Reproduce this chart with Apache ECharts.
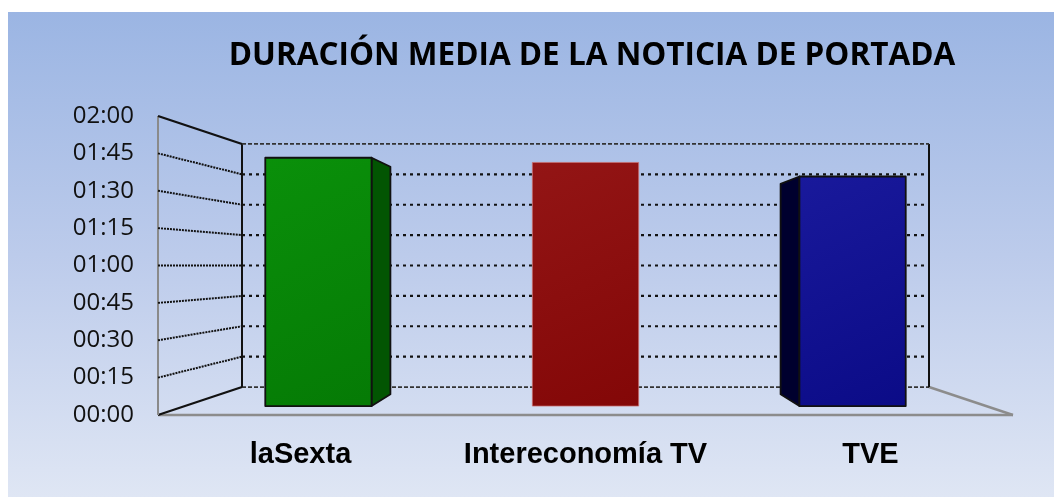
<!DOCTYPE html>
<html>
<head>
<meta charset="utf-8">
<script src="https://cdn.jsdelivr.net/npm/echarts@6/dist/echarts.min.js"></script>
<style>
  html, body { margin: 0; padding: 0; background: #fff; }
  #chart { width: 1054px; height: 497px; }
</style>
</head>
<body>
<div id="chart"></div>
<script>
// data, durations in seconds
const categories = ['laSexta', 'Intereconomía TV', 'TVE']
const durations = [106, 104, 98]
const tickSeconds = [0, 15, 30, 45, 60, 75, 90, 105, 120]
const frontColors = [['#0a900a', '#057a05'], ['#931515', '#830707'], ['#19199b', '#0b0b87']]
const sideColors = ['#025502', '#8c1010', '#00002e']
const edgeColors = ['#111', 'rgba(200,110,110,0.75)', '#111']

// fake perspective: everything is drawn on the front plane (the grid) and pushed back toward a vanishing point
const DEPTH_X = 0.1965
const DEPTH_Y = 0.187
const BAR_FRONT = 0.32
const BAR_BACK = 0.74

function vanish(cs) {
  return [cs.x + cs.width / 2, cs.y + cs.height / 2]
}

function proj(p, t, vp) {
  const sx = 1 - DEPTH_X * t
  const sy = 1 - DEPTH_Y * t
  return [vp[0] + (p[0] - vp[0]) * sx, vp[1] + (p[1] - vp[1]) * sy]
}

function mmss(sec) {
  const m = Math.floor(sec / 60)
  const s = sec % 60
  return String(m).padStart(2, '0') + ':' + String(s).padStart(2, '0')
}

function seg(a, b, style, z2) {
  return {
    type: 'line',
    shape: { x1: a[0], y1: a[1], x2: b[0], y2: b[1] },
    style: Object.assign({ fill: null }, style),
    z2: z2 || 0,
  }
}

function renderFrame(params, api) {
  const cs = params.coordSys
  const vp = vanish(cs)
  const v = api.value(1)
  const y = api.coord([0, v])[1]
  const fl = [cs.x, y]
  const fr = [cs.x + cs.width, y]
  const bl = proj(fl, 1, vp)
  const br = proj(fr, 1, vp)
  const isEdge = v === tickSeconds[0] || v === tickSeconds[tickSeconds.length - 1]
  const children = []

  // left wall
  children.push(seg(fl, bl, isEdge
    ? { stroke: '#111', lineWidth: 2.2 }
    : { stroke: '#111', lineWidth: 2, lineDash: [2, 1] }))
  // back wall
  children.push(seg(bl, br, isEdge
    ? { stroke: '#333', lineWidth: 1.8, lineDash: [4, 2] }
    : { stroke: '#111', lineWidth: 2.2, lineDash: [3, 4] }))

  if (v === tickSeconds[0]) {
    const top = api.coord([0, tickSeconds[tickSeconds.length - 1]])[1]
    const tl = proj([cs.x, top], 1, vp)
    const tr = proj([cs.x + cs.width, top], 1, vp)
    children.push(seg([cs.x, top], [cs.x, y], { stroke: '#8a8a8a', lineWidth: 2 }))
    children.push(seg(tl, bl, { stroke: '#111', lineWidth: 2 }))
    children.push(seg(tr, br, { stroke: '#111', lineWidth: 2 }))
    // floor
    children.push(seg(fl, fr, { stroke: '#8c8c8c', lineWidth: 2.5 }, -1))
    children.push(seg(br, fr, { stroke: '#8c8c8c', lineWidth: 2.5 }, -1))
  }
  return { type: 'group', children: children }
}

function renderBar(params, api) {
  const cs = params.coordSys
  const vp = vanish(cs)
  const i = api.value(0)
  const v = api.value(1)
  const hw = api.size([1, 0])[0] * 0.199
  const cx = api.coord([i, 0])[0]
  const y0 = api.coord([i, 0])[1]
  const y1 = api.coord([i, v])[1]
  const face = [[cx - hw, y1], [cx + hw, y1], [cx + hw, y0], [cx - hw, y0]]
  const front = face.map(p => proj(p, BAR_FRONT, vp))
  const back = face.map(p => proj(p, BAR_BACK, vp))
  const edge = { stroke: edgeColors[i], lineWidth: i === 1 ? 1 : 1.8, lineJoin: 'round' }
  const children = []

  if (front[1][0] < vp[0]) {
    // right side visible
    children.push({
      type: 'polygon',
      shape: { points: [front[1], back[1], back[2], front[2]] },
      style: Object.assign({ fill: sideColors[i] }, edge),
    })
  } else if (front[0][0] > vp[0]) {
    // left side visible
    children.push({
      type: 'polygon',
      shape: { points: [back[0], front[0], front[3], back[3]] },
      style: Object.assign({ fill: sideColors[i] }, edge),
    })
  }
  children.push({
    type: 'polygon',
    shape: { points: front },
    style: Object.assign({
      fill: new echarts.graphic.LinearGradient(0, 0, 1, 1, [
        { offset: 0, color: frontColors[i][0] },
        { offset: 1, color: frontColors[i][1] },
      ]),
    }, edge),
  })
  return { type: 'group', children: children }
}

const chart = echarts.init(document.getElementById('chart'))

chart.setOption({
  animation: false,
  backgroundColor: '#ffffff',
  graphic: [{
    type: 'rect',
    z: -10,
    silent: true,
    shape: { x: 8, y: 12, width: 1046, height: 485 },
    style: {
      fill: new echarts.graphic.LinearGradient(0, 0, 0, 1, [
        { offset: 0, color: '#9bb5e3' },
        { offset: 0.5, color: '#bccbeb' },
        { offset: 1, color: '#dfe6f4' },
      ]),
    },
  }],
  title: {
    text: 'DURACIÓN MEDIA DE LA NOTICIA DE PORTADA',
    left: 587,
    top: 35,
    textAlign: 'center',
    textStyle: { fontFamily: 'Open Sans', fontWeight: 'bold', fontSize: 31.5, color: '#000' },
  },
  grid: { left: 158, right: 41, top: 116, bottom: 82, containLabel: false },
  xAxis: {
    type: 'category',
    data: categories,
    axisLine: { show: false },
    axisTick: { show: false },
    axisLabel: {
      interval: 0,
      margin: 25,
      fontFamily: 'Liberation Sans Narrow, Liberation Sans, Arial',
      fontWeight: 'bold',
      fontSize: 29,
      color: '#000',
    },
  },
  yAxis: {
    type: 'value',
    min: 0,
    max: 120,
    interval: 15,
    axisLine: { show: false },
    axisTick: { show: false },
    splitLine: { show: false },
    axisLabel: {
      margin: 24,
      fontFamily: 'Open Sans',
      fontSize: 24,
      color: '#111',
      formatter: mmss,
    },
  },
  series: [
    {
      type: 'custom',
      name: 'frame',
      silent: true,
      renderItem: renderFrame,
      data: tickSeconds.map(v => [0, v]),
      z: 1,
    },
    {
      type: 'custom',
      name: 'duración',
      renderItem: renderBar,
      data: durations.map((v, i) => [i, v]),
      z: 5,
    },
  ],
})
</script>
</body>
</html>
